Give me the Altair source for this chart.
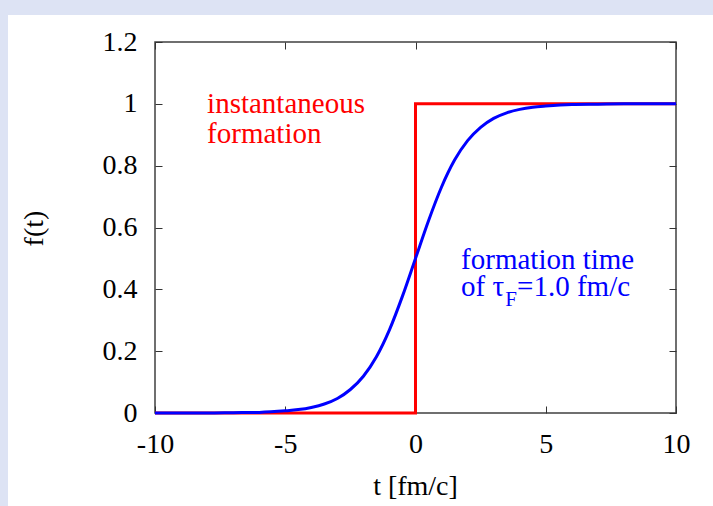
import altair as alt
import pandas as pd

# Smooth formation curve
t_smooth = [-10, -9, -8, -7, -6, -5, -4.5, -4, -3.5, -3, -2.5, -2, -1.5, -1, -0.5,
            0, 0.5, 1, 1.5, 2, 2.5, 3, 3.5, 4, 4.5, 5, 6, 7, 8, 9, 10]
f_smooth = [0.0, 0.0, 0.0, 0.001, 0.002, 0.007, 0.011, 0.018, 0.029, 0.047, 0.076,
            0.119, 0.182, 0.269, 0.378, 0.5, 0.622, 0.731, 0.818, 0.881, 0.924,
            0.953, 0.971, 0.982, 0.989, 0.993, 0.998, 0.999, 1.0, 1.0, 1.0]
# Instantaneous formation (step)
t_step = [-10, 0, 0, 10]
f_step = [0, 0, 1, 1]

x_ticks = [-10, -5, 0, 5, 10]
y_ticks = [0, 0.2, 0.4, 0.6, 0.8, 1, 1.2]

# annotations (anchor in data coordinates)
red_text = ["instantaneous", "formation"]
red_t = [-8.0, -8.0]
red_f = [0.970, 0.873]
blue_text = ["formation time", "of τ", "=1.0 fm/c"]
blue_t = [1.75, 1.75, 3.90]
blue_f = [0.466, 0.378, 0.378]
sub_text = ["F"]
sub_t = [3.45]
sub_f = [0.346]

FONT = "Liberation Serif"
FS = 28

smooth = pd.DataFrame({"t": t_smooth, "f": f_smooth})
step = pd.DataFrame({"t": t_step, "f": f_step, "i": list(range(len(t_step)))})
red_df = pd.DataFrame({"text": red_text, "t": red_t, "f": red_f})
blue_df = pd.DataFrame({"text": blue_text, "t": blue_t, "f": blue_f})
sub_df = pd.DataFrame({"text": sub_text, "t": sub_t, "f": sub_f})

xs = alt.Scale(domain=[-10, 10], nice=False, zero=False)
ys = alt.Scale(domain=[0, 1.2], nice=False, zero=False)

tick_style = dict(offset=-7, tickSize=7, domain=False, grid=False,
                  tickColor="#333333", tickWidth=1)

bottom_axis = alt.Axis(orient="bottom", values=x_ticks, labelExpr="'' + datum.value",
                       labelFlush=False, labelOverlap=False, labelPadding=17,
                       labelFont=FONT, labelFontSize=FS, labelColor="black",
                       title="t [fm/c]", titleFont=FONT, titleFontSize=FS,
                       titleFontWeight="normal", titleColor="black",
                       titleX=260, titleY=88, titleAlign="center",
                       titleBaseline="alphabetic", titleAngle=0, **tick_style)
left_axis = alt.Axis(orient="left", values=y_ticks, labelExpr="'' + datum.value",
                     labelFlush=False, labelOverlap=False, labelPadding=18,
                     labelFont=FONT, labelFontSize=FS, labelColor="black",
                     title="f(t)", titleFont=FONT, titleFontSize=FS,
                     titleFontWeight="normal", titleColor="black",
                     titleX=-120, titleY=186, titleAlign="center",
                     titleBaseline="alphabetic", titleAngle=270, **tick_style)
top_axis = alt.Axis(orient="top", values=x_ticks, labels=False, title=None, **tick_style)
right_axis = alt.Axis(orient="right", values=y_ticks, labels=False, title=None, **tick_style)

BAND = "#dde3f4"
one = pd.DataFrame({"k": [0]})
top_band = alt.Chart(one).mark_rect(color=BAND).encode(
    x=alt.value(-155), x2=alt.value(558), y=alt.value(-42), y2=alt.value(-27)
)
left_band = alt.Chart(one).mark_rect(color=BAND).encode(
    x=alt.value(-155), x2=alt.value(-147), y=alt.value(-42), y2=alt.value(464)
)

mirror = alt.Chart(smooth).mark_point(opacity=0).encode(
    x=alt.X("t:Q", scale=xs, axis=top_axis),
    y=alt.Y("f:Q", scale=ys, axis=right_axis),
)

red_line = alt.Chart(step).mark_line(color="#ff0000", strokeWidth=3).encode(
    x=alt.X("t:Q", scale=xs, axis=bottom_axis),
    y=alt.Y("f:Q", scale=ys, axis=left_axis),
    order="i:Q",
)

blue_line = alt.Chart(smooth).mark_line(color="#0000ff", strokeWidth=3,
                                        interpolate="monotone").encode(
    x=alt.X("t:Q", scale=xs, axis=None),
    y=alt.Y("f:Q", scale=ys, axis=None),
)

red_txt = alt.Chart(red_df).mark_text(align="left", baseline="alphabetic", font=FONT,
                                      fontSize=29, color="#ff0000").encode(
    x=alt.X("t:Q", scale=xs, axis=None),
    y=alt.Y("f:Q", scale=ys, axis=None),
    text="text:N",
)
blue_txt = alt.Chart(blue_df).mark_text(align="left", baseline="alphabetic", font=FONT,
                                        fontSize=29, color="#0000ff").encode(
    x=alt.X("t:Q", scale=xs, axis=None),
    y=alt.Y("f:Q", scale=ys, axis=None),
    text="text:N",
)
sub_txt = alt.Chart(sub_df).mark_text(align="left", baseline="alphabetic", font=FONT,
                                      fontSize=21, color="#0000ff").encode(
    x=alt.X("t:Q", scale=xs, axis=None),
    y=alt.Y("f:Q", scale=ys, axis=None),
    text="text:N",
)

chart = alt.layer(top_band, left_band, mirror, red_line, blue_line,
                  red_txt, blue_txt, sub_txt).properties(
    width=521,
    height=371,
    autosize=alt.AutoSizeParams(type="none"),
    padding={"left": 155, "top": 42, "right": 37, "bottom": 93},
    background="white",
).configure_view(stroke="#404040", strokeWidth=1.5)

chart.save("out.html", embed_options={"renderer": "svg", "actions": False})
